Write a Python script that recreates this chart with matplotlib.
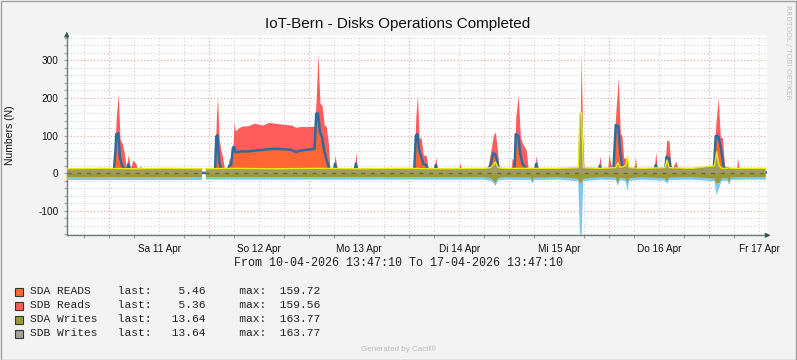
import numpy as np
import matplotlib
matplotlib.use('Agg')
import matplotlib.pyplot as plt
from matplotlib.patches import Rectangle

plt.rcParams['axes.unicode_minus'] = False

# hours since 10-04-2026 13:47:10
read_hours = [0.0, 10.8, 11.3, 11.7, 11.9, 12.4, 12.8, 13.3, 13.8, 14.3, 14.8, 15.3, 15.9, 16.6, 17.1, 17.7, 18.2,
              35.2, 35.6, 35.9, 36.2, 36.6, 37.0, 37.4, 37.8, 38.6, 39.0, 39.5, 39.9, 40.2, 40.5, 41.2, 42.0,
              43.5, 45.0, 47.0, 48.5, 50.0, 52.0, 54.0, 55.0, 56.0, 58.0, 59.5, 59.9, 60.3, 60.8, 61.3, 61.8,
              62.3, 62.8, 63.2, 64.1, 64.4, 64.8, 65.2, 69.1, 69.4, 69.8, 83.4, 83.8, 84.2, 84.6, 85.1, 85.6,
              86.3, 86.8, 88.3, 88.6, 89.0, 94.0, 94.4, 94.8, 101.0, 101.8, 102.4, 102.9, 103.4, 103.8, 106.7,
              106.9, 107.5, 107.8, 108.4, 108.9, 109.4, 110.3, 110.8, 112.4, 112.7, 113.2, 118.5, 121.0, 121.4,
              123.1, 123.5, 123.9, 124.3, 127.6, 128.0, 128.4, 129.8, 130.2, 130.6, 131.2, 131.8, 132.4, 132.9,
              133.3, 133.7, 134.2, 134.8, 136.3, 136.5, 136.9, 141.0, 141.4, 141.8, 143.6, 144.0, 144.6, 145.1,
              146.3, 146.8, 149.0, 150.0, 150.5, 153.0, 153.5, 155.3, 155.8, 156.4, 156.9, 157.4, 157.9, 160.8,
              161.0, 161.4, 162.5, 163.0, 167.8]
sda_reads = [1, 1, 4, 60, 104, 106, 40, 20, 12, 4, 24, 6, 6, 4, 2, 2, 1,
             1, 5, 98, 101, 30, 15, 4, 4, 4, 20, 22, 68, 70, 56, 57, 58,
             58, 60, 62, 64, 65, 64, 62, 56, 60, 63, 65, 158, 159, 110, 95, 60,
             38, 20, 3, 4, 25, 8, 2, 2, 26, 3, 2, 100, 104, 60, 45, 24,
             22, 4, 4, 22, 3, 2, 10, 2, 3, 25, 53, 50, 30, 4, 4,
             10, 15, 104, 100, 50, 25, 12, 4, 4, 25, 4, 2, 2, 2,
             3, 150, 4, 2, 3, 20, 3, 3, 10, 8, 5, 128, 125, 53,
             25, 10, 5, 4, 4, 15, 3, 3, 22, 3, 5, 44, 40, 5,
             6, 2, 2, 2, 2, 3, 2, 5, 99, 98, 75, 40, 5, 3,
             5, 3, 2, 2, 2]
sdb_reads = [2, 2, 11, 40, 46, 104, 52, 60, 43, 8, 26, 6, 29, 22, 4, 18, 2,
             2, 15, 42, 102, 60, 47, 41, 11, 4, 20, 18, 4, 67, 56, 63, 67,
             68, 73, 66, 71, 68, 66, 66, 66, 64, 61, 60, 42, 159, 76, 85, 68,
             87, 60, 7, 11, 23, 12, 3, 3, 31, 3, 2, 50, 103, 35, 48, 24,
             26, 6, 4, 22, 3, 2, 18, 2, 5, 35, 47, 60, 30, 6, 6,
             30, 15, 46, 107, 47, 55, 50, 6, 6, 23, 4, 2, 10, 2,
             7, 168, 50, 2, 3, 26, 3, 5, 41, 17, 5, 32, 129, 53,
             75, 30, 35, 6, 6, 31, 3, 3, 35, 3, 15, 44, 45, 5,
             26, 2, 8, 8, 2, 15, 2, 15, 31, 101, 21, 55, 15, 5,
             35, 12, 13, 2, 2]

write_hours = [0, 8, 16, 24, 32.5, 32.7, 33.2, 33.4, 40, 50, 60, 70, 80, 90, 100, 101.8, 102.4, 102.9, 103.6,
               105, 111.4, 111.8, 112.2, 118, 122.8, 123.2, 123.6, 124.0, 128, 131.8, 132.3, 132.8, 134.2,
               134.6, 135.0, 138, 143.6, 144.1, 144.6, 150, 155.5, 156.0, 156.6, 157.2, 158.6, 159.0, 159.4,
               163, 167.8]
sda_writes = [12, 13, 12, 13, 12, np.nan, np.nan, 12, 13, 12, 13, 12, 13, 12, 13, 15, 22, 30, 15,
              13, 13, 14, 13, 13, 15, 159, 160, 15, 13, 15, 28, 15, 20,
              44, 15, 13, 15, 35, 15, 13, 20, 57, 20, 13, 13, 15, 13,
              13, 13]
sdb_writes = [17, 17, 17, 17, 17, np.nan, np.nan, 17, 17, 17, 17, 17, 17, 17, 17, 20, 25, 34, 19,
              17, 18, 27, 18, 17, 21, 165, 165, 21, 17, 18, 34, 18, 21,
              49, 20, 17, 20, 28, 18, 17, 21, 58, 40, 20, 20, 31, 18,
              17, 17]

legend_names = ['SDA READS', 'SDB Reads', 'SDA Writes', 'SDB Writes']
legend_colors = ['#FF6633', '#FF5C5C', '#9A9A33', '#A3A39A']
last_vals = [5.46, 5.36, 13.64, 13.64]
max_vals = [159.72, 159.56, 163.77, 163.77]

day_labels = ['Sa 11 Apr', 'So 12 Apr', 'Mo 13 Apr', 'Di 14 Apr', 'Mi 15 Apr', 'Do 16 Apr', 'Fr 17 Apr']

W, H = 797, 360
fig = plt.figure(figsize=(W / 100, H / 100), dpi=100, facecolor='#F3F3F3')
ax = fig.add_axes([66.7 / W, 1 - 235.3 / H, 700.3 / W, 200.3 / H])
ax.set_facecolor('white')

t_r = np.array(read_hours)
a = np.array(sda_reads, dtype=float)
b = np.array(sdb_reads, dtype=float)
t_w = np.array(write_hours)
pw = np.array(sda_writes, dtype=float)
nw = np.array(sdb_writes, dtype=float)

# grid: red at midnight and every 100, grey dots in between
midnight0 = 24 - 13.786
for h in np.arange(midnight0 - 6, 170, 6):
    major = abs(((h - midnight0) / 24) - round((h - midnight0) / 24)) < 1e-6
    ax.axvline(h, color='#E4A3A3' if major else '#CFCFCF', lw=0.8, ls=(0, (1, 2)), zorder=0)
for v in range(-160, 361, 20):
    ax.axhline(v, color='#E4A3A3' if v % 100 == 0 else '#CFCFCF', lw=0.8, ls=(0, (1, 2)), zorder=0)

# reads (SDB stacked on SDA)
ax.fill_between(t_r, a, a + b, color=legend_colors[1], lw=0, zorder=2)
ax.fill_between(t_r, 0, a, color=legend_colors[0], lw=0, zorder=3)
ax.plot(t_r, a, color='#2F6A9C', lw=1.8, zorder=4)

# writes
ax.fill_between(t_w, 0, -nw, color='#80C8EA', lw=0, zorder=5)
ax.fill_between(t_w, -np.minimum(nw - 7, 26), pw, color='#9C9A38', lw=0, zorder=6)
ax.fill_between(t_w, -1, pw - 4, color='#A39C88', alpha=0.55, lw=0, zorder=7)
ax.plot(t_w, pw, color='#E8E820', lw=1.0, zorder=8)
ax.plot([0, 32.6], [0, 0], color='#6E6A3A', lw=1, ls=(0, (3, 4)), zorder=8)
ax.plot([33.3, 167.8], [0, 0], color='#6E6A3A', lw=1, ls=(0, (3, 4)), zorder=8)

ax.set_xlim(0, 168.1)
ax.set_ylim(-164.6, 367)

ax.set_yticks([-100, 0, 100, 200, 300])
ax.set_yticks(range(-160, 361, 20), minor=True)
ax.set_xticks([midnight0 + 12 + 24 * i for i in range(7)])
ax.set_xticklabels(day_labels)
ax.set_xticks(np.arange(midnight0 - 6, 168, 6), minor=True)
ax.tick_params(axis='both', which='both', length=2, width=0.8, color='#9A9A9A',
               labelsize=7.2, pad=4, labelcolor='#111111')
ax.tick_params(axis='x', which='major', length=0, pad=6)
for lbl in ax.get_xticklabels() + ax.get_yticklabels():
    lbl.set_fontfamily('Liberation Sans')

for s in ['top', 'right']:
    ax.spines[s].set_visible(False)
for s in ['left', 'bottom']:
    ax.spines[s].set_color('#6E7E78')
    ax.spines[s].set_linewidth(1.0)
ax.annotate('', xy=(0, 1.03), xytext=(0, 0.99), xycoords='axes fraction',
            arrowprops=dict(arrowstyle='-|>', color='#2F5A4C', lw=0.8, mutation_scale=7))
ax.annotate('', xy=(1.009, 0), xytext=(0.995, 0), xycoords='axes fraction',
            arrowprops=dict(arrowstyle='-|>', color='#2F5A4C', lw=0.8, mutation_scale=7))

fig.text(10.5 / W, 1 - 135 / H, 'Numbers (N)', rotation=90, ha='center', va='center',
         fontsize=7.5, family='Liberation Sans', color='#111111')

fig.text(398 / W, 1 - 28.3 / H, 'IoT-Bern - Disks Operations Completed', ha='center', va='baseline',
         fontsize=11, family='Liberation Sans', color='#111111')
fig.text(788 / W, 1 - 5 / H, 'RRDTOOL / TOBI OETIKER', rotation=270, ha='center', va='top',
         fontsize=5.3, family='DejaVu Sans', color='#C2C2C2')
fig.text(398 / W, 1 - 263 / H, 'From 10-04-2026 13:47:10 To 17-04-2026 13:47:10', ha='center',
         va='center', fontsize=8.4, family='Liberation Mono', color='#222222')

for i, name in enumerate(legend_names):
    yc = 291.5 + 14 * i
    fig.add_artist(Rectangle((15 / W, 1 - (yc + 4) / H), 8 / W, 8 / H, transform=fig.transFigure,
                             facecolor=legend_colors[i], edgecolor='#2A3A33', lw=0.8))
    fig.text(30.3 / W, 1 - yc / H, f"{name:<13}last:{last_vals[i]:>8.2f}     max:{max_vals[i]:>8.2f}",
             ha='left', va='center', fontsize=8.1, family='Liberation Mono', color='#222222')

fig.text(398.5 / W, 1 - 349 / H, 'Generated by Cacti\u00ae', ha='center', va='center',
         fontsize=5.8, family='Liberation Sans', color='#BBBBBB')

fig.add_artist(Rectangle((0.5 / W, 0.5 / H), 1 - 1.5 / W, 1 - 1.5 / H, transform=fig.transFigure,
                         fill=False, edgecolor='#A0A0A0', lw=1))

plt.savefig('out.png', dpi=100, facecolor=fig.get_facecolor())
